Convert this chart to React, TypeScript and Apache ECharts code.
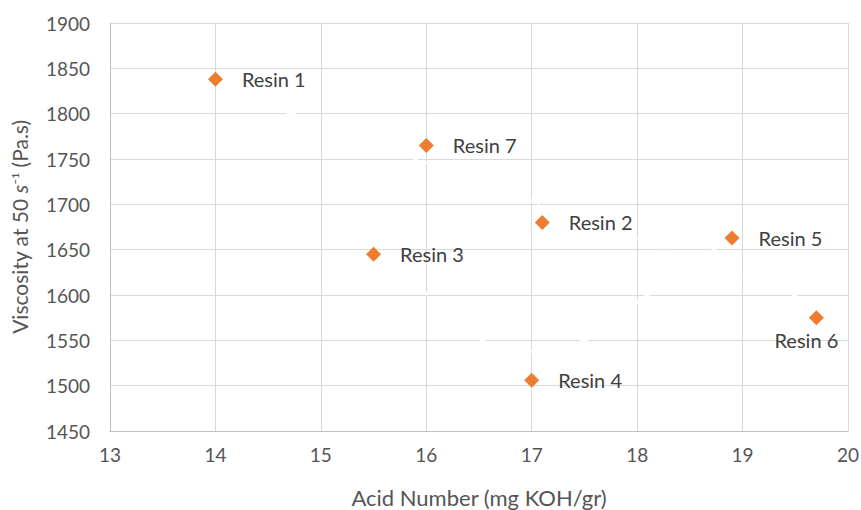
import React, { useEffect, useRef } from "react";
import * as echarts from "echarts";

const resinNames = ["Resin 1", "Resin 7", "Resin 2", "Resin 3", "Resin 5", "Resin 6", "Resin 4"];
const acidNumbers = [14.0, 16.0, 17.1, 15.5, 18.9, 19.7, 17.0];
const viscosities = [1838, 1765, 1680, 1645, 1663, 1575, 1506];
const labelBelow = ["Resin 6"];

// faint white (hidden) trend lines visible as gaps in the gridlines
const trendA = [[14.6, 1805], [19.7, 1590]];
const trendB = [[15.9, 1615], [16.5, 1552], [17.0, 1538], [17.5, 1550], [18.1, 1600], [18.8, 1655]];

const FONT = "Lato, 'Open Sans', sans-serif";
const TXT = "#555555";

export default function App() {
  const ref = useRef<HTMLDivElement>(null);
  useEffect(() => {
    if (!ref.current) return;
    const chart = echarts.init(ref.current, undefined, { renderer: "svg" });
    const points = resinNames.map((n, i) => ({
      name: n,
      value: [acidNumbers[i], viscosities[i]],
      label: labelBelow.includes(n)
        ? { position: "bottom", distance: 5, offset: [-10, 0] }
        : { position: "right", distance: 19 },
    }));
    chart.setOption({
      animation: false,
      backgroundColor: "#ffffff",
      textStyle: { fontFamily: FONT },
      grid: {
        left: 110,
        right: 13,
        top: 23,
        bottom: 79,
        containLabel: false,
        outerBoundsMode: "none",
      },
      xAxis: {
        type: "value",
        min: 13,
        max: 20,
        interval: 1,
        name: "Acid Number (mg KOH/gr)",
        nameLocation: "middle",
        nameGap: 55,
        nameTextStyle: { fontSize: 22, color: TXT, fontFamily: FONT },
        axisLine: { show: true, lineStyle: { color: "#BFBFBF", width: 1 } },
        axisTick: { show: false },
        axisLabel: { fontSize: 19, color: TXT, margin: 14, fontFamily: FONT },
        splitLine: { show: true, lineStyle: { color: "#D9D9D9", width: 1 } },
      },
      yAxis: {
        type: "value",
        min: 1450,
        max: 1900,
        interval: 50,
        name: "{a|Viscosity at 50 }{i|s}{s|⁻¹}{a| (Pa.s)}",
        nameLocation: "middle",
        nameGap: 80,
        nameTextStyle: {
          rich: {
            a: { fontSize: 21, color: TXT, fontFamily: FONT },
            i: { fontSize: 21, color: TXT, fontFamily: FONT, fontStyle: "italic" },
            s: { fontSize: 18, color: TXT, fontFamily: FONT },
          },
        },
        axisLine: { show: true, lineStyle: { color: "#BFBFBF", width: 1 } },
        axisTick: { show: false },
        axisLabel: {
          fontSize: 19,
          color: TXT,
          margin: 20,
          fontFamily: FONT,
          formatter: (v: number) => String(v),
        },
        splitLine: { show: true, lineStyle: { color: "#D9D9D9", width: 1 } },
      },
      series: [
        {
          type: "line",
          data: trendA,
          symbol: "none",
          silent: true,
          z: 1,
          lineStyle: { color: "#ffffff", width: 3, type: [18, 8] },
        },
        {
          type: "line",
          data: trendB,
          symbol: "none",
          smooth: true,
          silent: true,
          z: 1,
          lineStyle: { color: "#ffffff", width: 3, type: [18, 8] },
        },
        {
          type: "scatter",
          data: points,
          symbol: "diamond",
          symbolSize: 15,
          z: 5,
          itemStyle: { color: "#ED7D31", opacity: 1 },
          label: {
            show: true,
            formatter: "{b}",
            fontSize: 20,
            color: "#404040",
            fontFamily: FONT,
          },
        },
      ],
    });
    return () => chart.dispose();
  }, []);
  return (
    <div
      ref={ref}
      style={{ position: "fixed", left: 0, top: 0, width: 861, height: 510 }}
    />
  );
}
